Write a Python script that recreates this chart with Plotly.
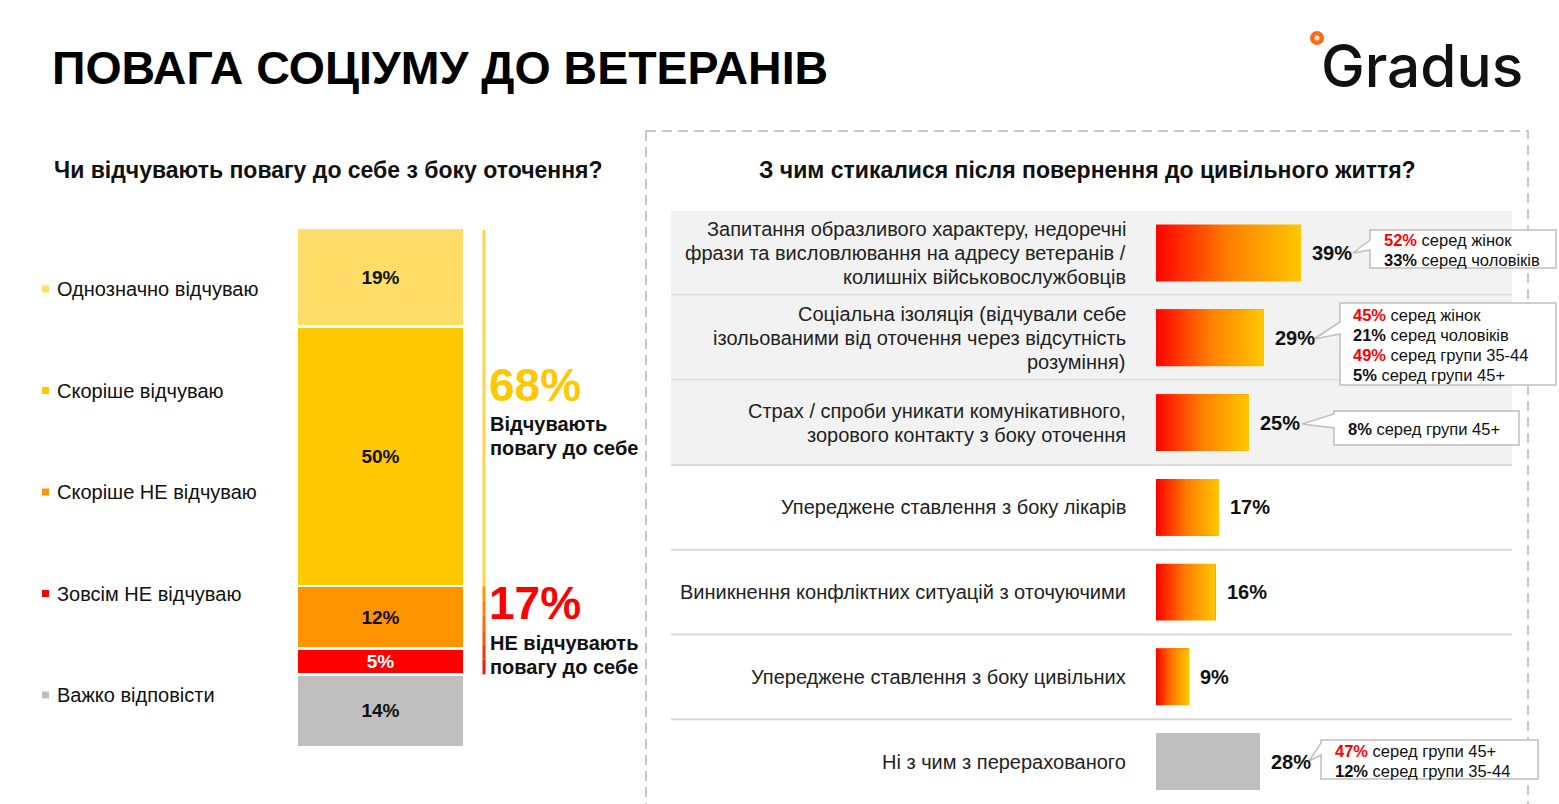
import plotly.graph_objects as go

W, H = 1559, 804
FONT = "Liberation Sans"

# ---------------- data ----------------
left_labels = ["Однозначно відчуваю", "Скоріше відчуваю", "Скоріше НЕ відчуваю",
               "Зовсім НЕ відчуваю", "Важко відповісти"]
left_values = [19, 50, 12, 5, 14]
left_colors = ["#FFDD66", "#FFC800", "#FF9400", "#FF0000", "#BFBFBF"]
left_text_colors = ["#111111", "#111111", "#111111", "#FFFFFF", "#111111"]

summary_values = [68, 17]
summary_texts = [["Відчувають", "повагу до себе"], ["НЕ відчувають", "повагу до себе"]]

right_categories = [
    ["Запитання образливого характеру, недоречні",
     "фрази та висловлювання на адресу ветеранів /",
     "колишніх військовослужбовців"],
    ["Соціальна ізоляція (відчували себе",
     "ізольованими від оточення через відсутність",
     "розуміння)"],
    ["Страх / спроби уникати комунікативного,",
     "зорового контакту з боку оточення"],
    ["Упереджене ставлення з боку лікарів"],
    ["Виникнення конфліктних ситуацій з оточуючими"],
    ["Упереджене ставлення з боку цивільних"],
    ["Ні з чим з перерахованого"],
]
right_values = [39, 29, 25, 17, 16, 9, 28]
right_gradient = [True, True, True, True, True, True, False]

callouts = {
    0: ["<b><span style='color:#FF0000'>52%</span></b> серед жінок",
        "<b>33%</b> серед чоловіків"],
    1: ["<b><span style='color:#FF0000'>45%</span></b> серед жінок",
        "<b>21%</b> серед чоловіків",
        "<b><span style='color:#FF0000'>49%</span></b> серед групи 35-44",
        "<b>5%</b> серед групи 45+"],
    2: ["<b>8%</b> серед групи 45+"],
    6: ["<b><span style='color:#FF0000'>47%</span></b> серед групи 45+",
        "<b>12%</b> серед групи 35-44"],
}

title = "ПОВАГА СОЦІУМУ ДО ВЕТЕРАНІВ"
left_subtitle = "Чи відчувають повагу до себе з боку оточення?"
right_subtitle = "З чим стикалися після повернення до цивільного життя?"


def px(x):
    return x / W


def py(y):
    return 1 - y / H


fig = go.Figure()

# ---------------- left stacked bar ----------------
for lab, v, c, tc in reversed(list(zip(left_labels, left_values, left_colors, left_text_colors))):
    fig.add_trace(go.Bar(
        x=[0], y=[v], name=lab, width=1,
        marker=dict(color=c, line=dict(color="white", width=2.5)),
        text=[f"{v}%"], textposition="inside", insidetextanchor="middle",
        constraintext="none", textangle=0,
        textfont=dict(family=FONT, size=19, color=tc, weight="bold"),
        xaxis="x", yaxis="y", hoverinfo="skip",
    ))

# ---------------- right horizontal bars ----------------
BW = 0.67
idx = list(range(len(right_values)))
fig.add_trace(go.Bar(
    x=right_values, y=idx, orientation="h", width=BW,
    marker=dict(color=["#FF7A00" if g else "#BFBFBF" for g in right_gradient], line=dict(width=0)),
    xaxis="x2", yaxis="y2", hoverinfo="skip",
))
for i, (v, g) in enumerate(zip(right_values, right_gradient)):
    if not g:
        continue
    fig.add_trace(go.Scatter(
        x=[0, v, v, 0, 0], y=[i - BW / 2, i - BW / 2, i + BW / 2, i + BW / 2, i - BW / 2],
        mode="lines", fill="toself", line=dict(width=0),
        fillgradient=dict(type="horizontal", colorscale=[[0, "#FF0000"], [0.5, "#FF7F00"], [1, "#FFC800"]]),
        xaxis="x2", yaxis="y2", hoverinfo="skip",
    ))

shapes = []
annotations = []


def multiline(lines, x, y, xref, yref, size, spacing, xanchor="left", color="#111111", bold=False):
    n = len(lines)
    for k, ln in enumerate(lines):
        off = ((n - 1) / 2 - k) * spacing
        annotations.append(dict(x=x, y=y, xref=xref, yref=yref, xanchor=xanchor, yanchor="middle",
                                yshift=off, text=f"<b>{ln}</b>" if bold else ln, showarrow=False,
                                font=dict(family=FONT, size=size, color=color)))


# title & logo
annotations.append(dict(x=px(50), y=py(68), xref="paper", yref="paper", xanchor="left", yanchor="middle",
                        text=f"<b>{title}</b>", showarrow=False,
                        font=dict(family=FONT, size=46.5, color="#000000")))
annotations.append(dict(x=px(1319), y=py(65), xref="paper", yref="paper", xanchor="left", yanchor="middle",
                        text="Gradus", showarrow=False,
                        font=dict(family="Inter", size=58.5, color="#111111", weight=500)))
shapes.append(dict(type="circle", xref="paper", yref="paper",
                   x0=px(1310), x1=px(1324), y0=py(31), y1=py(45),
                   fillcolor="#FF6A1A", line=dict(width=0)))
shapes.append(dict(type="circle", xref="paper", yref="paper",
                   x0=px(1314.5), x1=px(1319.5), y0=py(35.5), y1=py(40.5),
                   fillcolor="#FFE6C8", line=dict(width=0)))

# subtitles
annotations.append(dict(x=px(52), y=py(170), xref="paper", yref="paper", xanchor="left", yanchor="middle",
                        text=f"<b>{left_subtitle}</b>", showarrow=False,
                        font=dict(family=FONT, size=23, color="#111111")))
annotations.append(dict(x=px(1087), y=py(170), xref="paper", yref="paper", xanchor="center", yanchor="middle",
                        text=f"<b>{right_subtitle}</b>", showarrow=False,
                        font=dict(family=FONT, size=23, color="#111111")))

# dashed panel
shapes.append(dict(type="rect", xref="paper", yref="paper",
                   x0=px(646), x1=px(1528), y0=py(131), y1=py(830),
                   line=dict(color="#C8C8C8", width=2, dash="10px,6px"), fillcolor="rgba(0,0,0,0)"))

# left legend
for k, (lab, c) in enumerate(zip(left_labels, left_colors)):
    yc = 289 + k * 101.5
    shapes.append(dict(type="rect", xref="paper", yref="paper",
                       x0=px(42), x1=px(49), y0=py(yc - 3.5), y1=py(yc + 3.5),
                       fillcolor=c, line=dict(width=0)))
    annotations.append(dict(x=px(55), y=py(yc), xref="paper", yref="paper", xanchor="left", yanchor="middle",
                            text=lab, showarrow=False, font=dict(family=FONT, size=20, color="#111111")))

# summary brackets (positions from stacked cumulative values)
cum = []
s = 0
for v in reversed(left_values):
    cum.append(s)
    s += v
bottom_pos = dict(zip(reversed(range(len(left_values))), cum))
pos_lo = bottom_pos[1]
pos_hi = 100
neg_lo = bottom_pos[3]
neg_hi = bottom_pos[2] + left_values[2]
shapes.append(dict(type="line", xref="paper", yref="y", x0=px(484), x1=px(484),
                   y0=pos_lo, y1=pos_hi - 0.4, line=dict(color="#FFD34D", width=3)))
grad = ["#FF9400", "#FF8000", "#FF6A00", "#FF5000", "#FF3300", "#FF1500"]
n = len(grad)
for k, c in enumerate(grad):
    ya = neg_hi - (neg_hi - neg_lo) * k / n
    yb = neg_hi - (neg_hi - neg_lo) * (k + 1) / n
    shapes.append(dict(type="line", xref="paper", yref="y", x0=px(484), x1=px(484),
                       y0=ya, y1=yb, line=dict(color=c, width=3)))

annotations.append(dict(x=px(487), y=py(385), xref="paper", yref="paper", xanchor="left", yanchor="middle",
                        text=f"<b>{summary_values[0]}%</b>", showarrow=False,
                        font=dict(family=FONT, size=46, color="#FFC800")))
multiline(summary_texts[0], px(488), py(436), "paper", "paper", 20, 24, bold=True)
annotations.append(dict(x=px(487), y=py(603), xref="paper", yref="paper", xanchor="left", yanchor="middle",
                        text=f"<b>{summary_values[1]}%</b>", showarrow=False,
                        font=dict(family=FONT, size=46, color="#FF0000")))
multiline(summary_texts[1], px(488), py(655), "paper", "paper", 20, 24, bold=True)

# right panel row backgrounds / separators / labels
for i in idx:
    if i < 3:
        shapes.append(dict(type="rect", xref="paper", yref="y2", x0=px(671), x1=px(1512),
                           y0=i - 0.5, y1=i + 0.5, fillcolor="#F2F2F2", line=dict(width=0), layer="below"))
    if i < len(idx) - 1:
        shapes.append(dict(type="line", xref="paper", yref="y2", x0=px(671), x1=px(1512),
                           y0=i + 0.5, y1=i + 0.5, line=dict(color="#D9D9D9", width=2), layer="below"))
    multiline(right_categories[i], px(1128), i, "paper", "y2", 20, 24, xanchor="right", color="#222222")
    annotations.append(dict(x=right_values[i], y=i, xref="x2", yref="y2", xanchor="left", yanchor="middle",
                            xshift=9, text=f"<b>{right_values[i]}%</b>", showarrow=False,
                            font=dict(family=FONT, size=20, color="#111111")))

# callout boxes (left, top, right, bottom, base_y0, base_y1, tip_x, tip_y, text_x)
box_geom = {
    0: (1370, 230, 1556, 268, 240, 250, 1353, 253, 1382),
    1: (1340, 303, 1556, 385, 322, 334, 1314, 339, 1351),
    2: (1334, 411, 1519, 445, 414, 428, 1302, 424, 1346),
    6: (1321, 740, 1538, 779, 743, 755, 1309, 761, 1333),
}
for key, lines in callouts.items():
    l, t, r, b, b0, b1, tx, ty, textx = box_geom[key]
    path = (f"M {px(l)},{py(t)} L {px(r)},{py(t)} L {px(r)},{py(b)} L {px(l)},{py(b)} "
            f"L {px(l)},{py(b1)} L {px(tx)},{py(ty)} L {px(l)},{py(b0)} Z")
    shapes.append(dict(type="path", xref="paper", yref="paper", path=path,
                       fillcolor="white", line=dict(color="#BFBFBF", width=1.5)))
    multiline(lines, px(textx), py((t + b) / 2 + 1), "paper", "paper", 16.5, 20)

fig.update_layout(
    width=W, height=H, margin=dict(l=0, r=0, t=0, b=0),
    paper_bgcolor="white", plot_bgcolor="rgba(0,0,0,0)",
    showlegend=False, barmode="stack",
    xaxis=dict(domain=[px(297), px(464)], range=[-0.5, 0.5], visible=False, fixedrange=True),
    yaxis=dict(domain=[py(747), py(228)], range=[0, 100], visible=False, fixedrange=True),
    xaxis2=dict(domain=[px(1156), px(1512)], range=[0, 356 / 3.72], visible=False,
                anchor="y2", fixedrange=True),
    yaxis2=dict(domain=[0, py(210.6)], range=[6.5, -0.5], visible=False, anchor="x2", fixedrange=True),
    shapes=shapes, annotations=annotations,
)

fig.write_html("out.html", config={"displayModeBar": False},
               post_script="document.body.style.margin='0';document.body.style.overflow='hidden';")
